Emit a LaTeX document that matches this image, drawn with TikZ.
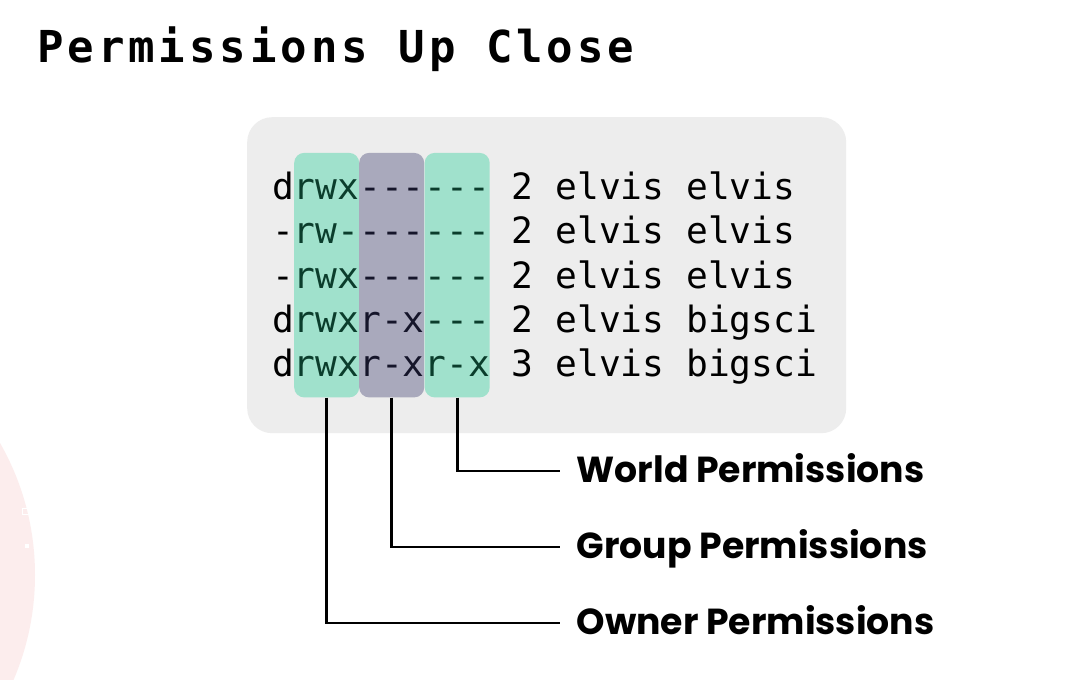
\documentclass[tikz,border=0pt]{standalone}
\usepackage{fontspec}
\setmainfont{Poppins}
\newfontfamily\codefont[Ligatures=TeXOff]{DejaVu Sans Mono}
\newfontfamily\titlefont[Ligatures=TeXOff,LetterSpace=9]{DejaVu Sans Mono Bold}
\newfontfamily\lblfont{Poppins}
\definecolor{bgbox}{HTML}{EDEDED}
\definecolor{colgreen}{HTML}{A0E1CC}
\definecolor{colgray}{HTML}{A9A9BC}
\definecolor{txtgreen}{HTML}{0B3D2C}
\definecolor{txtgray}{HTML}{15152A}
\definecolor{pinkbg}{HTML}{FCEDED}
\tikzset{
  colbox/.style={minimum width=65bp, minimum height=244.5bp, inner sep=0pt, rounded corners=10bp, anchor=north west},
  coderow/.style={anchor=base west, inner sep=0pt, font=\codefont\fontsize{36.2bp}{44bp}\selectfont},
  lbl/.style={anchor=west, inner xsep=16.5bp, inner ysep=0pt, text height=24bp, text depth=2bp,
              font=\lblfont\bfseries\fontsize{36.2bp}{40bp}\selectfont},
  conn/.style={line width=2.7bp, black},
}
\newcommand{\gT}[1]{\textcolor{txtgreen}{#1}}
\newcommand{\yT}[1]{\textcolor{txtgray}{#1}}
\begin{document}
\begin{tikzpicture}[x=1bp,y=-1bp]
\useasboundingbox (0,0) rectangle (1085,680);
\fill[white] (0,0) rectangle (1085,680);
% faint decorative circle
\begin{scope}
\clip (0,0) rectangle (1085,680);
\fill[pinkbg] (-231,575) circle[radius=266];
\end{scope}
\draw[white, line width=1.3bp] (22.5,508.5) rectangle (28.5,514.5);
\fill[white] (25,544) rectangle (29,548);
% title
\node[anchor=base west, inner sep=0pt, font=\titlefont\fontsize{44bp}{50bp}\selectfont] (title) at (37,63) {Permissions Up Close};
% code block background
\node[fill=bgbox, rounded corners=25bp, minimum width=599bp, minimum height=316bp, inner sep=0pt, anchor=north west] (panel) at (247,117) {};
% columns
\node[colbox, fill=colgreen] (owner) at (294,152.7) {};
\node[colbox, fill=colgray] (group) at (359,152.7) {};
\node[colbox, fill=colgreen] (world) at (424.5,152.7) {};
% code rows
\node[coderow] (r1) at (272,199.5) {d\gT{rwx}\yT{---}\gT{---} 2 elvis elvis};
\node[coderow] (r2) at (272,243.8) {-\gT{rw-}\yT{---}\gT{---} 2 elvis elvis};
\node[coderow] (r3) at (272,288.1) {-\gT{rwx}\yT{---}\gT{---} 2 elvis elvis};
\node[coderow] (r4) at (272,332.4) {d\gT{rwx}\yT{r-x}\gT{---} 2 elvis bigsci};
\node[coderow] (r5) at (272,376.7) {d\gT{rwx}\yT{r-x}\gT{r-x} 3 elvis bigsci};
% labels
\node[lbl] (worldlbl) at (560,471) {World Permissions};
\node[lbl] (grouplbl) at (560,547) {Group Permissions};
\node[lbl] (ownerlbl) at (560,623) {Owner Permissions};
% connectors
\draw[conn] (world.south) |- (worldlbl.west);
\draw[conn] (group.south) |- (grouplbl.west);
\draw[conn] (owner.south) |- (ownerlbl.west);
\end{tikzpicture}
\end{document}
